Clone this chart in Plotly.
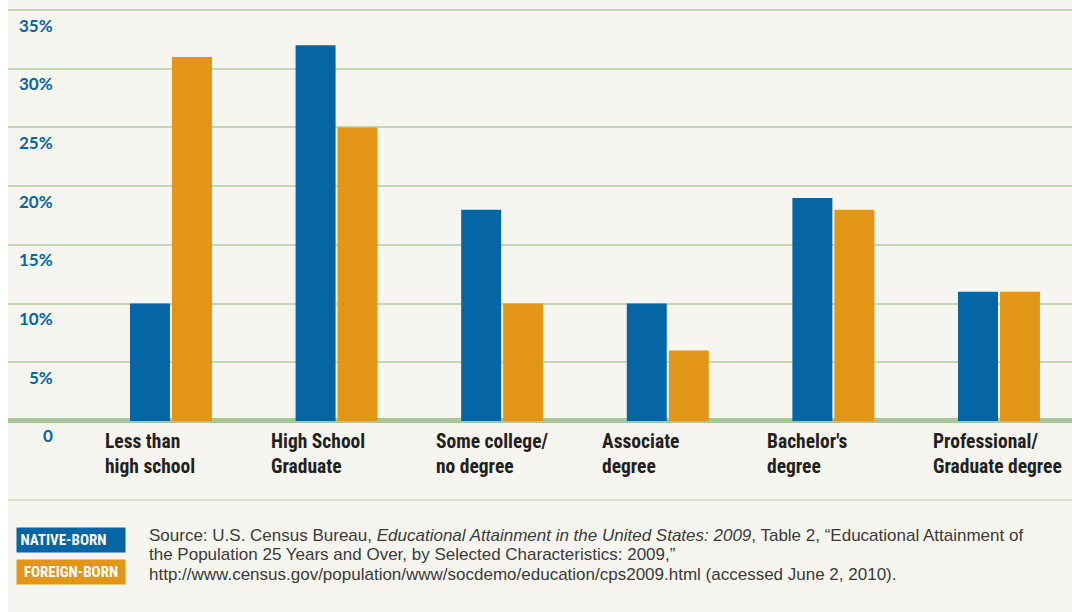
import plotly.graph_objects as go

categories = ["Less than<br>high school", "High School<br>Graduate", "Some college/<br>no degree",
              "Associate<br>degree", "Bachelor's<br>degree", "Professional/<br>Graduate degree"]
series_names = ["NATIVE-BORN", "FOREIGN-BORN"]
native_born = [10, 32, 18, 10, 19, 11]
foreign_born = [31, 25, 10, 6, 18, 11]
tick_values = [0, 5, 10, 15, 20, 25, 30, 35]
tick_labels = ["0", "5%", "10%", "15%", "20%", "25%", "30%", "35%"]
source_lines = [
    "Source: U.S. Census Bureau, <i>Educational Attainment in the United States: 2009</i>, "
    "Table 2, \u201cEducational Attainment of",
    "the Population 25 Years and Over, by Selected Characteristics: 2009,\u201d",
    "http://www.census.gov/population/www/socdemo/education/cps2009.html (accessed June 2, 2010).",
]

BLUE = "#0565a5"
ORANGE = "#e29517"
BG = "#f6f5f0"
GRID = "#c3d6b4"
BASE = "#a9c59c"
COND = "Liberation Sans Narrow, Roboto Condensed, Arial Narrow, Roboto, sans-serif"

x_idx = list(range(len(categories)))

fig = go.Figure()
fig.add_trace(go.Bar(x=x_idx, y=native_born, name=series_names[0], marker_color=BLUE,
                     marker_line_width=0))
fig.add_trace(go.Bar(x=x_idx, y=foreign_born, name=series_names[1], marker_color=ORANGE,
                     marker_line_width=0))

annotations = []
# y tick labels (below each gridline)
for v, t in zip(tick_values, tick_labels):
    annotations.append(dict(xref="paper", yref="y", x=(55 - 8) / 1064, y=v, yshift=-15,
                            xanchor="right", yanchor="middle", text=t, showarrow=False,
                            font=dict(family="Lato, Roboto, sans-serif", size=17, color=BLUE,
                                      weight="bold")))
# category labels
for i, c in enumerate(categories):
    annotations.append(dict(xref="x", yref="paper", x=i, xshift=-68, y=1 - 428 / 480,
                            xanchor="left", yanchor="top", align="left", text=c,
                            showarrow=False,
                            font=dict(family=COND, size=19.5, color="#231f20", weight="bold")))
# legend boxes
for name, col, yc, al in [(series_names[0], BLUE, 540, "left"),
                          (series_names[1], ORANGE, 572, "center")]:
    label = ("&nbsp;" + name) if al == "left" else name
    annotations.append(dict(xref="paper", yref="paper", x=(16 - 8) / 1064, xanchor="left",
                            y=1 - yc / 480, yanchor="middle", text=label, showarrow=False,
                            bgcolor=col, width=108, height=24, align=al, borderpad=0,
                            font=dict(family=COND, size=15, color="white", weight="bold")))
# source
for k, line in enumerate(source_lines):
    annotations.append(dict(xref="paper", yref="paper", x=(147 - 8) / 1064, xanchor="left",
                            y=1 - (535 + 19.5 * k) / 480, yanchor="middle", align="left",
                            text=line, showarrow=False,
                            font=dict(family="Liberation Sans, Arial, sans-serif", size=17,
                                      color="#3a3a3a")))

shapes = [
    dict(type="rect", xref="paper", yref="paper", x0=-8 / 1064, x1=0, y0=-132 / 480, y1=1,
         fillcolor="white", line_width=0, layer="below"),
    dict(type="line", xref="paper", yref="paper", x0=0, x1=1, y0=1 - 500 / 480, y1=1 - 500 / 480,
         line=dict(color="#e2ddcb", width=2)),
]

fig.update_layout(
    width=1072, height=612,
    margin=dict(l=8, r=0, t=0, b=132),
    paper_bgcolor=BG, plot_bgcolor=BG,
    barmode="group", bargap=0.493, bargroupgap=0.048,
    showlegend=False,
    xaxis=dict(range=[-0.984, 5.441], showticklabels=False, showgrid=False, zeroline=False,
               ticks=""),
    yaxis=dict(range=[-5.03, 35.86], tickvals=tick_values[1:], showticklabels=False,
               showgrid=True, gridcolor=GRID, gridwidth=2, zeroline=True, zerolinecolor=BASE,
               zerolinewidth=5, ticks=""),
    annotations=annotations,
    shapes=shapes,
)

fig.write_html("out.html")
